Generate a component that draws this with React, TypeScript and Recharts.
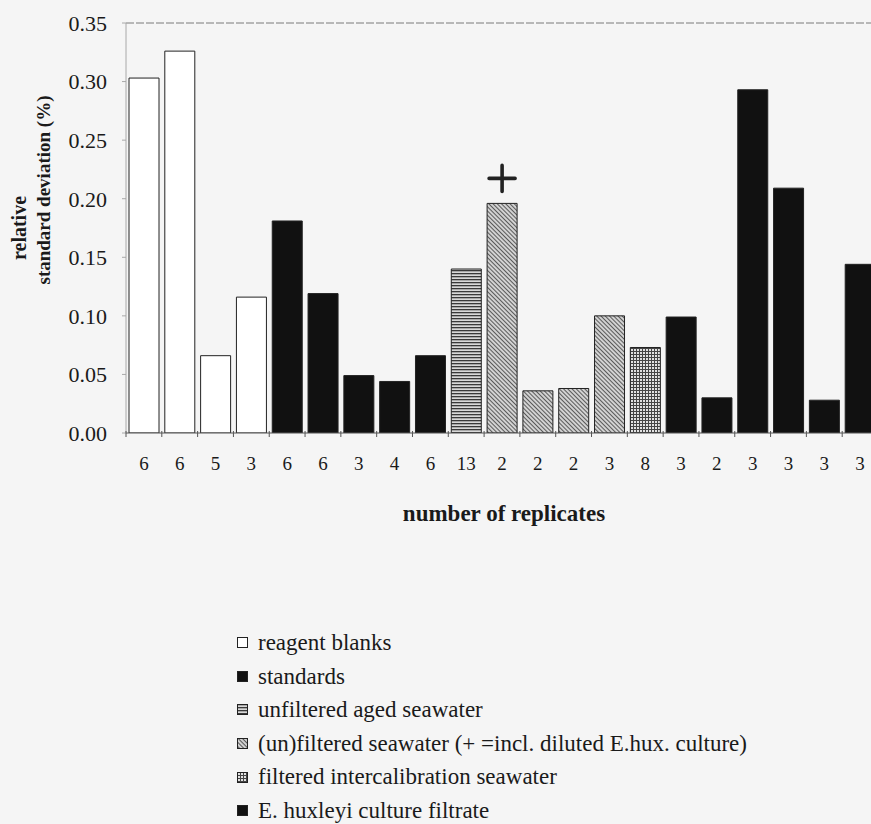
import { BarChart, Bar, Cell, XAxis, YAxis, ReferenceLine, LabelList, Label } from 'recharts';

type SampleType = 'blank' | 'standard' | 'aged' | 'seawater' | 'intercal' | 'huxleyi';

// number of replicates per measurement series (x axis)
const replicates = [6, 6, 5, 3, 6, 6, 3, 4, 6, 13, 2, 2, 2, 3, 8, 3, 2, 3, 3, 3, 3];

// relative standard deviation in %
const rsd = [
  0.303, 0.326, 0.066, 0.116, 0.181, 0.119, 0.049, 0.044, 0.066, 0.14, 0.196, 0.036, 0.038,
  0.1, 0.073, 0.099, 0.03, 0.293, 0.209, 0.028, 0.144,
];

const sampleType: SampleType[] = [
  'blank', 'blank', 'blank', 'blank',
  'standard', 'standard', 'standard', 'standard', 'standard',
  'aged',
  'seawater', 'seawater', 'seawater', 'seawater',
  'intercal',
  'huxleyi', 'huxleyi', 'huxleyi', 'huxleyi', 'huxleyi', 'huxleyi',
];

// series that included diluted E. hux. culture (marked with +)
const dilutedSeries = [10];

const yTicks = [0, 0.05, 0.1, 0.15, 0.2, 0.25, 0.3, 0.35];

const legendItems: { type: SampleType; label: string }[] = [
  { type: 'blank', label: 'reagent blanks' },
  { type: 'standard', label: 'standards' },
  { type: 'aged', label: 'unfiltered aged seawater' },
  { type: 'seawater', label: '(un)filtered seawater (+ =incl. diluted E.hux. culture)' },
  { type: 'intercal', label: 'filtered intercalibration seawater' },
  { type: 'huxleyi', label: 'E. huxleyi culture filtrate' },
];

const data = rsd.map((v, i) => ({
  n: replicates[i],
  rsd: v,
  type: sampleType[i],
  diluted: dilutedSeries.includes(i),
}));

const SERIF = '"Liberation Serif", "Times New Roman", serif';
const INK = '#1a1a1a';

function fillFor(type: SampleType, prefix: string) {
  switch (type) {
    case 'blank':
      return '#ffffff';
    case 'aged':
      return `url(#${prefix}-hlines)`;
    case 'seawater':
      return `url(#${prefix}-diag)`;
    case 'intercal':
      return `url(#${prefix}-grid)`;
    default:
      return '#111111';
  }
}

function Patterns({ prefix }: { prefix: string }) {
  return (
    <defs>
      <pattern id={`${prefix}-hlines`} width={4} height={3} patternUnits="userSpaceOnUse">
        <rect width={4} height={3} fill="#d8d8d8" />
        <rect width={4} height={1.3} fill="#3a3a3a" />
      </pattern>
      <pattern
        id={`${prefix}-diag`}
        width={3}
        height={3}
        patternUnits="userSpaceOnUse"
        patternTransform="rotate(-45)"
      >
        <rect width={3} height={3} fill="#d2d2d2" />
        <line x1={0.5} y1={0} x2={0.5} y2={3} stroke="#5a5a5a" strokeWidth={1} />
      </pattern>
      <pattern id={`${prefix}-grid`} width={3} height={3} patternUnits="userSpaceOnUse">
        <rect width={3} height={3} fill="#e2e2e2" />
        <rect width={3} height={1} fill="#454545" />
        <rect width={1} height={3} fill="#454545" />
      </pattern>
    </defs>
  );
}

function ReplicateTick(props: any) {
  const { x, y, payload } = props;
  const half = payload?.offset ?? 0;
  const axisY = y - 24;
  return (
    <g>
      <line x1={x - half} x2={x - half} y1={axisY - 2} y2={axisY + 4} stroke="#555" strokeWidth={1} />
      <text x={x} y={y} dy="0.71em" textAnchor="middle" fontFamily={SERIF} fontSize={19} fill={INK}>
        {payload.value}
      </text>
    </g>
  );
}

function PlusMark(props: any) {
  const { x, y, width, index } = props;
  if (!data[index]?.diluted) return null;
  const cx = x + width / 2;
  const cy = y - 25;
  return (
    <path
      d={`M${cx - 13},${cy} H${cx + 13} M${cx},${cy - 13} V${cy + 13}`}
      stroke="#222"
      strokeWidth={3.6}
      strokeLinecap="round"
      fill="none"
    />
  );
}

function YTitle(props: any) {
  const { viewBox } = props;
  const cy = viewBox.y + viewBox.height / 2;
  const x1 = viewBox.x - 7.5;
  const x2 = viewBox.x + 17.5;
  const y2 = cy - 38;
  return (
    <g fontFamily={SERIF} fontWeight="bold" fill={INK}>
      <text x={x1} y={cy} dy="0.35em" textAnchor="middle" fontSize={20} transform={`rotate(-90, ${x1}, ${cy})`}>
        relative
      </text>
      <text x={x2} y={y2} dy="0.35em" textAnchor="middle" fontSize={19} transform={`rotate(-90, ${x2}, ${y2})`}>
        standard deviation (%)
      </text>
    </g>
  );
}

function XTitle(props: any) {
  const { viewBox } = props;
  return (
    <text
      x={viewBox.x + viewBox.width / 2 + 2}
      y={viewBox.y + 80}
      dy="0.35em"
      textAnchor="middle"
      fontFamily={SERIF}
      fontWeight="bold"
      fontSize={23}
      fill={INK}
    >
      number of replicates
    </text>
  );
}

function Swatch({ type }: { type: SampleType }) {
  const id = `lg-${type}`;
  return (
    <svg width={11} height={11} style={{ marginRight: 10, flex: 'none' }}>
      <Patterns prefix={id} />
      <rect x={0.5} y={0.5} width={10} height={10} fill={fillFor(type, id)} stroke="#222" strokeWidth={1} />
    </svg>
  );
}

export default function App() {
  return (
    <div
      style={{
        position: 'absolute',
        left: 0,
        top: 0,
        width: 871,
        height: 824,
        overflow: 'hidden',
        background: '#f5f5f5',
      }}
    >
      <BarChart
        width={878}
        height={560}
        data={data}
        margin={{ top: 23, right: 0, left: 26, bottom: 0 }}
        barSize={30}
      >
        <Patterns prefix="bar" />
        <ReferenceLine y={0.35} stroke="#7a7a7a" strokeDasharray="8 2" strokeWidth={1} />
        <XAxis
          dataKey="n"
          height={127}
          tickLine={false}
          tickSize={5}
          tickMargin={19}
          interval={0}
          axisLine={{ stroke: '#555', strokeWidth: 1.2 }}
          tick={<ReplicateTick />}
        >
          <Label content={<XTitle />} />
        </XAxis>
        <YAxis
          width={100}
          domain={[0, 0.35]}
          ticks={yTicks}
          tickSize={4}
          tickMargin={15}
          tickFormatter={(v: number) => v.toFixed(2)}
          tick={{ fontFamily: SERIF, fontSize: 22, fill: INK }}
          axisLine={{ stroke: '#a8a8a8' }}
          tickLine={{ stroke: '#a8a8a8' }}
          allowDataOverflow
        >
          <Label content={<YTitle />} />
        </YAxis>
        <Bar dataKey="rsd" isAnimationActive={false} stroke="#222" strokeWidth={1}>
          {data.map((d, i) => (
            <Cell key={i} fill={fillFor(d.type, 'bar')} />
          ))}
          <LabelList dataKey="rsd" content={<PlusMark />} />
        </Bar>
      </BarChart>

      <div
        style={{
          position: 'absolute',
          left: 237,
          top: 626,
          fontFamily: SERIF,
          fontSize: 23,
          color: INK,
          lineHeight: '33.6px',
        }}
      >
        {legendItems.map((item) => (
          <div key={item.type} style={{ display: 'flex', alignItems: 'center', whiteSpace: 'nowrap' }}>
            <Swatch type={item.type} />
            <span>{item.label}</span>
          </div>
        ))}
      </div>
    </div>
  );
}
